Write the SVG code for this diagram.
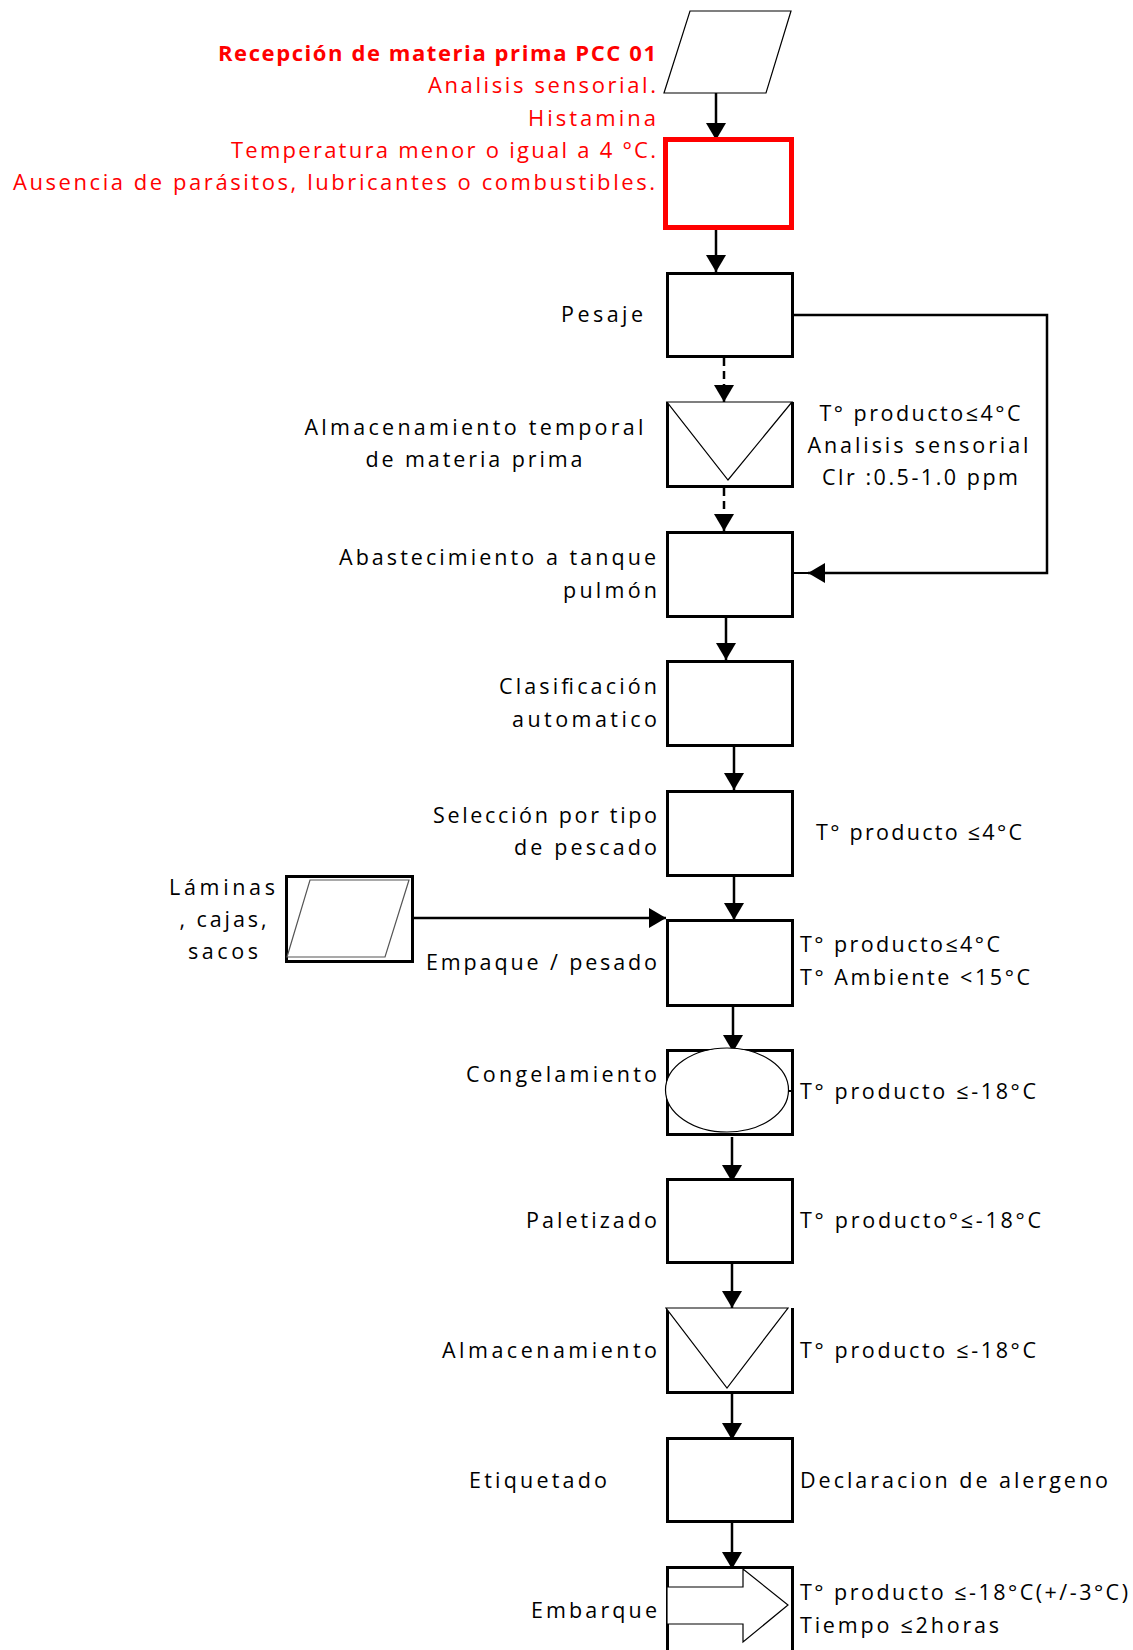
<svg xmlns="http://www.w3.org/2000/svg" width="1133" height="1650" viewBox="0 0 1133 1650">
<style>
text{font-family:"Open Sans","Noto Sans","Liberation Sans",sans-serif;font-size:21.5px;fill:#000}
.r{fill:#ff0000;font-size:22px}
.rb{fill:#ff0000;font-size:22px;font-weight:bold}
.e{text-anchor:end}
.m{text-anchor:middle}
.box{fill:#fff;stroke:#000;stroke-width:3}
.thin{fill:#fff;stroke:#000;stroke-width:1.2}
.c{fill:none;stroke:#000;stroke-width:2.5;marker-end:url(#ah)}
.d{stroke-dasharray:8 5}
</style>
<defs>
<marker id="ah" markerWidth="17" markerHeight="20" refX="17" refY="10" orient="auto" markerUnits="userSpaceOnUse">
<path d="M0,0 L17,10 L0,20 Z" fill="#000"/>
</marker>
</defs>
<rect width="1133" height="1650" fill="#fff"/>

<g id="connectors">
<path class="c" d="M716,93 V140"/>
<path class="c" d="M716,230 V272"/>
<path class="c d" d="M724,358 V402"/>
<path class="c d" d="M724,488 V531"/>
<path class="c" d="M726,618 V660"/>
<path class="c" d="M734,747 V790"/>
<path class="c" d="M734,877 V920"/>
<path class="c" d="M733,1007 V1052"/>
<path class="c" d="M732,1137 V1182"/>
<path class="c" d="M732,1264 V1308"/>
<path class="c" d="M732,1394 V1440"/>
<path class="c" d="M732,1523 V1569"/>
<path class="c" d="M414,918 H666"/>
<path class="c" d="M794,315 H1047 V573 H808"/>
<path d="M794,573 H808" stroke="#000" stroke-width="2"/>
</g>

<g id="n-inicio">
<polygon class="thin" points="690,11 791,11 766,93 664,93"/>
</g>

<g id="n-recepcion">
<rect x="665.5" y="139.5" width="126" height="88" fill="#fff" stroke="#ff0000" stroke-width="5"/>
<text class="rb e" x="656" y="61" textLength="438" lengthAdjust="spacing">Recepción de materia prima PCC 01</text>
<text class="r e" x="656" y="93" textLength="228" lengthAdjust="spacing">Analisis sensorial.</text>
<text class="r e" x="656" y="126" textLength="128" lengthAdjust="spacing">Histamina</text>
<text class="r e" x="656" y="158" textLength="425" lengthAdjust="spacing">Temperatura menor o igual a 4 °C.</text>
<text class="r e" x="655" y="190" textLength="642" lengthAdjust="spacing">Ausencia de parásitos, lubricantes o combustibles.</text>
</g>

<g id="n-pesaje">
<rect class="box" x="667.5" y="273.5" width="125" height="83"/>
<text class="e" x="643" y="322" textLength="82">Pesaje</text>
</g>

<g id="n-almacen-temporal">
<rect x="667.5" y="402" width="125" height="84.5" fill="#fff"/>
<path d="M667.5,402 V486.5 H792.5 V402" fill="none" stroke="#000" stroke-width="3"/>
<polygon class="thin" points="667,402 792,402 728,480"/>
<text class="m" x="474" y="435" textLength="339">Almacenamiento temporal</text>
<text class="m" x="474" y="467" textLength="217">de materia prima</text>
<text class="m" x="920" y="421" textLength="201">T° producto≤4°C</text>
<text class="m" x="918" y="453" textLength="221">Analisis sensorial</text>
<text class="m" x="920" y="485" textLength="196">Clr :0.5-1.0 ppm</text>
</g>

<g id="n-abastecimiento">
<rect class="box" x="667.5" y="532.5" width="125" height="84"/>
<text class="e" x="656" y="565" textLength="317">Abastecimiento a tanque</text>
<text class="e" x="657" y="598" textLength="94">pulmón</text>
</g>

<g id="n-clasificacion">
<rect class="box" x="667.5" y="661.5" width="125" height="84"/>
<text class="e" x="657" y="694" textLength="158">Clasificación</text>
<text class="e" x="657" y="727" textLength="145">automatico</text>
</g>

<g id="n-seleccion">
<rect class="box" x="667.5" y="791.5" width="125" height="84"/>
<text class="e" x="657" y="823" textLength="224">Selección por tipo</text>
<text class="e" x="657" y="855" textLength="143">de pescado</text>
<text x="816" y="840" textLength="206">T° producto ≤4°C</text>
</g>

<g id="n-laminas">
<rect class="box" x="286.5" y="876.5" width="126" height="85"/>
<polygon points="310,880 409,880 385,957 287,957" fill="#fff" stroke="#555" stroke-width="1.2"/>
<text class="m" x="222" y="895" textLength="106">Láminas</text>
<text class="m" x="223" y="927" textLength="87">, cajas,</text>
<text class="m" x="223" y="959" textLength="70">sacos</text>
</g>

<g id="n-empaque">
<rect class="box" x="667.5" y="920.5" width="125" height="85"/>
<text class="e" x="657" y="970" textLength="231">Empaque / pesado</text>
<text x="800" y="952" textLength="200">T° producto≤4°C</text>
<text x="800" y="985" textLength="230">T° Ambiente &lt;15°C</text>
</g>

<g id="n-congelamiento">
<rect class="box" x="667.5" y="1050.5" width="125" height="84"/>
<ellipse class="thin" cx="727" cy="1090" rx="61.5" ry="42"/>
<path d="M788,1091 H794" stroke="#000" stroke-width="2"/>
<text class="e" x="657" y="1082" textLength="191">Congelamiento</text>
<text x="800" y="1099" textLength="236">T° producto ≤-18°C</text>
</g>

<g id="n-paletizado">
<rect class="box" x="667.5" y="1179.5" width="125" height="83"/>
<text class="e" x="657" y="1228" textLength="131">Paletizado</text>
<text x="800" y="1228" textLength="241">T° producto°≤-18°C</text>
</g>

<g id="n-almacenamiento">
<rect x="667.5" y="1308" width="125" height="84.5" fill="#fff"/>
<path d="M667.5,1308 V1392.5 H792.5 V1308" fill="none" stroke="#000" stroke-width="3"/>
<polygon class="thin" points="666,1308 788,1308 727,1388"/>
<text class="e" x="657" y="1358" textLength="215">Almacenamiento</text>
<text x="800" y="1358" textLength="236">T° producto ≤-18°C</text>
</g>

<g id="n-etiquetado">
<rect class="box" x="667.5" y="1438.5" width="125" height="83"/>
<text x="469" y="1488" textLength="138">Etiquetado</text>
<text x="800" y="1488" textLength="308">Declaracion de alergeno</text>
</g>

<g id="n-embarque">
<rect class="box" x="667.5" y="1567.5" width="125" height="100"/>
<polygon class="thin" points="667,1587 743,1587 743,1569 788,1605 743,1642 743,1624 667,1624"/>
<text class="e" x="657" y="1618" textLength="126">Embarque</text>
<text x="800" y="1600" textLength="328">T° producto ≤-18°C(+/-3°C)</text>
<text x="800" y="1633" textLength="199">Tiempo ≤2horas</text>
</g>
</svg>
